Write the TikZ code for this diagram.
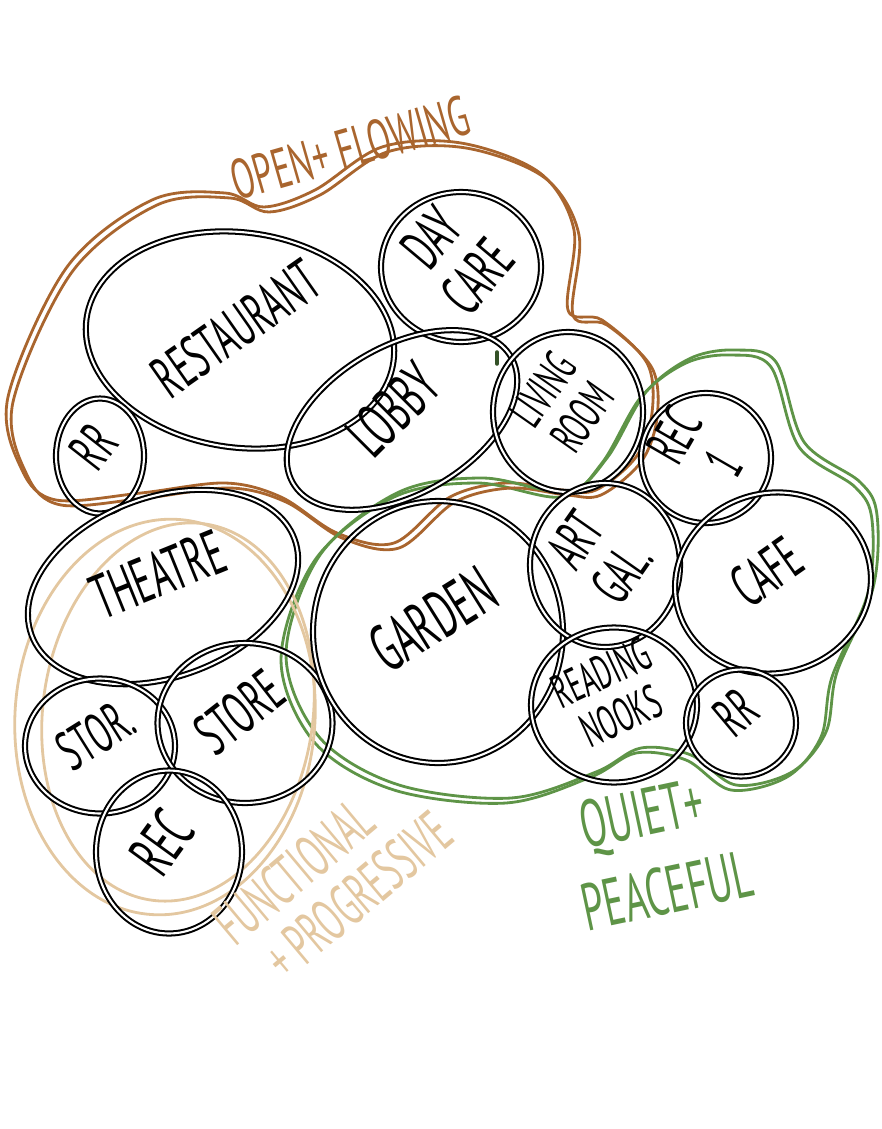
\documentclass[tikz,border=0pt]{standalone}
\usepackage{fontspec}
\setmainfont{PT Sans}
\usepackage{graphicx}
\usetikzlibrary{shapes.geometric}
\definecolor{rust}{HTML}{A9652E}
\definecolor{sage}{HTML}{5E9447}
\definecolor{sand}{HTML}{E3C7A0}
% hand-lettered text, turned by #2, taking no room in its bubble
\newcommand{\hand}[3][32]{\makebox[0pt]{\smash{$\vcenter{\hbox{\rotatebox{#2}{\fontsize{#1}{#1}\selectfont\scalebox{0.55}[1]{\begin{tabular}{@{}c@{}}#3\end{tabular}}}}}$}}}

\begin{document}
\begin{tikzpicture}[
  x=0.02cm, y=-0.02cm,
  bubble/.style={ellipse, draw, line width=1.15pt, double=white, double distance=1.2pt, inner sep=0pt},
  zone/.style={line width=1.6pt},
  tag/.style={inner sep=0pt, font=\fontsize{32}{30}\selectfont}
]
  \useasboundingbox (0,0) rectangle (882,1129);

  % Zones
  \foreach \s in {0,5} {
    \draw[zone, rust, xshift=\s*0.02cm, yshift=-\s*0.02cm] plot[smooth cycle, tension=0.55] coordinates {
      (8,397) (67,267) (152,200) (225,193) (264,207) (315,190) (382,147) (461,143)
      (540,173) (574,230) (568,310) (602,320) (647,363) (652,413) (636,457) (596,490)
      (562,490) (506,483) (450,497) (394,543) (337,533) (281,497) (225,483) (141,493)
      (56,500) (22,470)};
    \draw[zone, sage, xshift=\s*0.02cm, yshift=\s*0.02cm] plot[smooth cycle, tension=0.55] coordinates {
      (731,355) (771,367) (799,447) (855,487) (872,520) (868,593) (832,677) (821,737)
      (787,777) (731,790) (686,760) (636,753) (591,777) (506,803) (394,790) (315,743)
      (281,660) (315,560) (394,497) (478,483) (562,497) (602,463) (641,397) (686,363)};
  }
  \draw[zone, sand, rotate around={-4:(165,717)}] (165,717) ellipse (150 and 198);
  \draw[zone, sand, rotate around={-8:(178,712)}] (178,712) ellipse (135 and 190);

  % Bubbles
  \node[bubble, minimum width=6.2cm, minimum height=4.3cm, rotate=-8] (rest) at (240,340) {\hand[34]{43}{RESTAURANT}};
  \node[bubble, minimum width=3.2cm, minimum height=3.0cm] (daycare) at (461,267) {\hand[34]{50}{DAY\\CARE}};
  \node[bubble, minimum width=1.76cm, minimum height=2.3cm] (rrA) at (100,456) {\hand{52}{RR}};
  \node[bubble, minimum width=5.04cm, minimum height=2.96cm, rotate=30] (lobby) at (402,420) {\hand[36]{15}{LOBBY}};
  \node[bubble, minimum width=3.0cm, minimum height=3.2cm] (living) at (568,412) {\hand[27]{55}{LIVING\\ROOM}};
  \node[bubble, minimum width=2.6cm, minimum height=2.6cm] (recA) at (706,458) {\hand{60}{REC\\1}};

  \node[bubble, minimum width=5.6cm, minimum height=3.6cm, rotate=20] (theatre) at (163,587) {\hand[36]{2}{THEATRE}};
  \node[bubble, minimum width=3.0cm, minimum height=2.7cm] (stor) at (100,746) {\hand{32}{STOR.}};
  \node[bubble, minimum width=3.5cm, minimum height=3.2cm] (store) at (245,723) {\hand[34]{38}{STORE}};
  \node[bubble, minimum width=2.92cm, minimum height=3.26cm] (recB) at (169,852) {\hand[36]{54}{REC}};

  \node[bubble, minimum width=5.0cm, minimum height=5.24cm] (garden) at (438,632) {\hand[38]{32}{GARDEN}};
  \node[bubble, minimum width=3.0cm, minimum height=3.28cm] (artgal) at (605,565) {\hand{55}{ART\\GAL.}};
  \node[bubble, minimum width=3.94cm, minimum height=3.6cm, rotate=15] (cafe) at (773,583) {\hand[34]{20}{CAFE}};
  \node[bubble, minimum width=3.32cm, minimum height=3.1cm] (nooks) at (614,705) {\hand[27]{25}{READING\\NOOKS}};
  \node[bubble, minimum width=2.2cm, minimum height=2.14cm] (rrB) at (741,723) {\hand{40}{RR}};

  % stray mark
  \draw[sage!55!black, line width=2pt, line cap=round] (497,352) -- (497,364);

  % Zone labels
  \node[tag, rust, rotate=16] (openlbl) at (350,148) {\scalebox{0.6}[1]{OPEN+ FLOWING}};
  \node[tag, sage, rotate=12, font=\fontsize{38}{46}\selectfont] (quietlbl) at (660,858) {\scalebox{0.58}[1]{\begin{tabular}{@{}l@{}}\hspace{0.4em}QUIET+\\PEACEFUL\end{tabular}}};
  \node[tag, sand, rotate=40, font=\fontsize{34}{32}\selectfont] (funclbl) at (338,884) {\scalebox{0.55}[1]{\begin{tabular}{@{}l@{}}FUNCTIONAL\\\hspace{0.5em}+ PROGRESSIVE\end{tabular}}};
\end{tikzpicture}
\end{document}
